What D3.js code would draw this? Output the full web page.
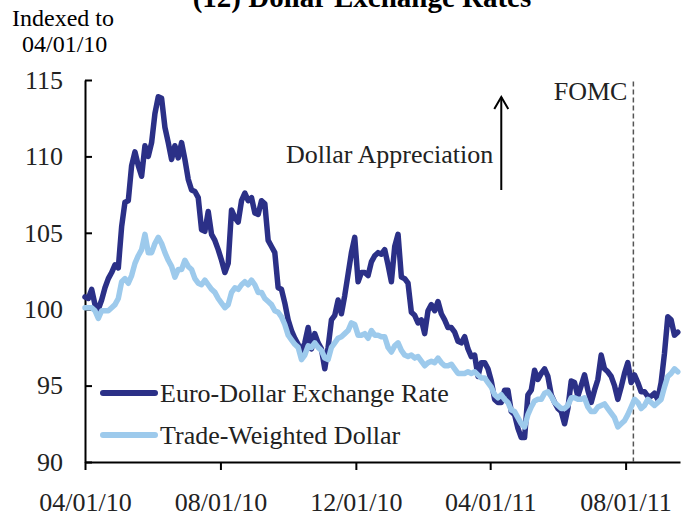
<!DOCTYPE html>
<html>
<head>
<meta charset="utf-8">
<script src="https://cdn.jsdelivr.net/npm/d3@7"></script>
<style>
    body { margin: 0; background: #ffffff; }
    svg { display: block; font-family: "Liberation Serif", "Times New Roman", serif; }
</style>
</head>
<body>
<svg id="lineas"></svg>
<script>
// fechas cada 3 dias
const fechas = [
    "4/1/10","4/4/10","4/7/10","4/10/10","4/13/10","4/16/10","4/19/10","4/22/10","4/25/10","4/28/10",
    "5/1/10","5/4/10","5/7/10","5/10/10","5/13/10","5/16/10","5/19/10","5/22/10","5/25/10","5/28/10","5/31/10",
    "6/3/10","6/6/10","6/9/10","6/12/10","6/15/10","6/18/10","6/21/10","6/24/10","6/27/10","6/30/10",
    "7/3/10","7/6/10","7/9/10","7/12/10","7/15/10","7/18/10","7/21/10","7/24/10","7/27/10","7/30/10",
    "8/2/10","8/5/10","8/8/10","8/11/10","8/14/10","8/17/10","8/20/10","8/23/10","8/26/10","8/29/10",
    "9/1/10","9/4/10","9/7/10","9/10/10","9/13/10","9/16/10","9/19/10","9/22/10","9/25/10","9/28/10",
    "10/1/10","10/4/10","10/7/10","10/10/10","10/13/10","10/16/10","10/19/10","10/22/10","10/25/10","10/28/10","10/31/10",
    "11/3/10","11/6/10","11/9/10","11/12/10","11/15/10","11/18/10","11/21/10","11/24/10","11/27/10","11/30/10",
    "12/3/10","12/6/10","12/9/10","12/12/10","12/15/10","12/18/10","12/21/10","12/24/10","12/27/10","12/30/10",
    "1/2/11","1/5/11","1/8/11","1/11/11","1/14/11","1/17/11","1/20/11","1/23/11","1/26/11","1/29/11",
    "2/1/11","2/4/11","2/7/11","2/10/11","2/13/11","2/16/11","2/19/11","2/22/11","2/25/11","2/28/11",
    "3/3/11","3/6/11","3/9/11","3/12/11","3/15/11","3/18/11","3/21/11","3/24/11","3/27/11","3/30/11",
    "4/2/11","4/5/11","4/8/11","4/11/11","4/14/11","4/17/11","4/20/11","4/23/11","4/26/11","4/29/11",
    "5/2/11","5/5/11","5/8/11","5/11/11","5/14/11","5/17/11","5/20/11","5/23/11","5/26/11","5/29/11",
    "6/1/11","6/4/11","6/7/11","6/10/11","6/13/11","6/16/11","6/19/11","6/22/11","6/25/11","6/28/11",
    "7/1/11","7/4/11","7/7/11","7/10/11","7/13/11","7/16/11","7/19/11","7/22/11","7/25/11","7/28/11","7/31/11",
    "8/3/11","8/6/11","8/9/11","8/12/11","8/15/11","8/18/11","8/21/11","8/24/11","8/27/11","8/30/11",
    "9/2/11","9/5/11","9/8/11","9/11/11","9/14/11","9/17/11"
];

const euroDolar = [
    100.8,100.7,101.3,100.3,100.0,100.6,101.4,102.0,102.4,102.9,
    102.7,105.4,107.0,107.1,109.4,110.3,109.4,108.7,110.7,110.0,
    110.9,112.8,113.9,113.8,111.9,110.9,109.8,110.7,109.9,110.9,
    109.8,108.5,107.8,107.7,107.3,105.2,105.1,106.4,104.9,104.5,
    103.9,103.2,102.4,103.0,106.5,106.0,105.7,107.1,107.6,107.1,
    107.3,106.3,106.2,107.1,106.9,104.5,104.1,103.7,101.4,101.3,
    100.4,99.3,98.6,98.1,97.7,97.2,97.8,98.8,97.4,98.4,
    97.8,97.4,96.1,97.5,99.3,99.6,100.6,99.7,100.9,102.3,
    103.7,104.7,101.8,102.4,102.4,102.2,103.1,103.5,103.7,103.6,
    103.9,102.9,101.8,104.1,104.9,102.1,102.0,101.7,99.8,99.6,
    99.1,99.3,98.4,99.9,100.3,99.9,100.5,99.7,99.3,98.8,
    98.8,98.5,97.9,97.8,98.2,97.4,96.9,97.0,95.6,96.5,
    96.5,96.1,95.3,94.1,93.9,93.9,94.7,94.7,93.3,93.1,
    92.2,91.6,91.6,94.4,94.7,96.0,95.4,95.8,96.1,95.6,
    94.4,93.9,93.5,93.3,92.5,93.5,95.3,95.2,94.3,95.0,
    95.7,94.7,93.9,94.7,95.4,97.0,96.1,95.9,95.6,95.0,
    94.1,94.9,95.8,96.5,95.2,95.7,95.2,94.6,94.6,94.3,
    94.3,94.5,94.1,95.2,97.1,99.5,99.3,98.3,98.5
];

const dolarPonderado = [
    100.1,100.1,100.1,99.9,99.4,99.9,99.9,99.9,100.1,100.3,
    100.7,101.8,102.0,101.7,102.2,103.0,103.5,103.9,104.9,103.7,
    103.7,104.3,104.7,104.3,103.7,103.2,102.8,102.1,102.6,102.6,
    103.2,102.8,102.6,102.0,101.7,101.6,101.9,101.6,101.3,101.1,
    100.7,100.4,100.1,100.3,101.1,101.4,101.3,101.6,101.8,101.6,
    101.9,101.6,101.1,101.1,100.7,100.5,100.3,99.9,99.8,99.5,
    99.0,98.3,98.0,97.7,97.5,96.7,97.0,97.6,97.5,97.8,
    97.5,97.3,96.8,96.7,97.5,97.8,98.1,98.2,98.4,98.6,
    99.1,99.0,98.3,98.3,98.4,98.1,98.6,98.3,98.3,98.2,
    98.2,97.5,97.2,97.6,97.8,97.3,97.0,96.9,97.0,96.8,
    96.9,96.6,96.3,96.5,96.6,96.5,96.8,96.5,96.3,96.3,
    96.4,96.1,95.8,95.8,95.8,95.9,95.8,95.9,95.7,95.5,
    95.5,95.2,94.9,94.4,94.2,94.4,94.1,93.9,93.4,93.3,
    92.9,92.5,92.3,93.1,93.6,94.0,94.1,94.1,94.5,94.6,
    94.3,93.9,93.7,93.5,93.5,93.7,94.2,94.2,94.1,94.1,
    94.2,93.6,93.3,93.3,93.6,93.7,93.8,93.5,93.2,92.9,
    92.3,92.5,92.7,93.1,93.6,94.1,93.9,93.5,93.7,94.1,
    93.9,93.7,93.9,94.1,94.9,95.6,95.8,96.1,95.9
];

const series = ["Euro-Dollar Exchange Rate", "Trade-Weighted Dollar"];
const ticksX = ["4/1/10", "8/1/10", "12/1/10", "4/1/11", "8/1/11"];
const ticksY = [90, 95, 100, 105, 110, 115];
const fechaFomc = "8/8/11";

const ancho = 682;
const alto = 518;
const fuente = "Liberation Serif, Times New Roman, serif";
const myColor = ['#2b3087', '#9dcaec'];

const parse = d3.timeParse("%m/%d/%y");
const fmt = d3.timeFormat("%m/%d/%y");

const svg = d3.select('#lineas').attr('width', ancho).attr('height', alto);

let miEscalaX = d3.scaleTime()
    .domain([parse("4/1/10"), parse("9/19/11")])
    .range([85, 680]);
let miEscalaY = d3.scaleLinear().domain([90, 115]).range([462, 80]);

// titulo (cortado arriba, como en el original)
svg.append("text")
    .attr("x", 362).attr("y", 7)
    .attr("text-anchor", "middle")
    .style("font-size", "29px").style("font-weight", "bold")
    .text("(12) Dollar Exchange Rates");

svg.append("text").attr("x", 12).attr("y", 26)
    .style("font-size", "24px").text("Indexed to");
svg.append("text").attr("x", 22).attr("y", 52)
    .style("font-size", "24px").text("04/01/10");

// ejes
let xMiEje = d3.axisBottom(miEscalaX)
    .tickValues(ticksX.map(parse))
    .tickFormat(fmt)
    .tickSizeInner(8)
    .tickSizeOuter(0);

svg.append("g")
    .attr("id", "xMiEje")
    .attr("transform", "translate(0," + miEscalaY(90) + ")")
    .call(xMiEje);

let yMiEje = d3.axisLeft(miEscalaY)
    .tickValues(ticksY)
    .tickSizeInner(-7)
    .tickSizeOuter(0)
    .tickPadding(22);

svg.append("g")
    .attr("id", "yMiEje")
    .attr("transform", "translate(" + miEscalaX(parse("4/1/10")) + ",0)")
    .call(yMiEje);

svg.selectAll("#xMiEje path, #yMiEje path").attr("stroke", "#000").attr("stroke-width", 2);
svg.selectAll("#xMiEje line, #yMiEje line").attr("stroke", "#000").attr("stroke-width", 2);
svg.selectAll("#xMiEje text, #yMiEje text")
    .attr("fill", "#222")
    .style("font-family", fuente)
    .style("font-size", "26px");
svg.selectAll("#xMiEje text").attr("y", 49).attr("dy", 0);

// linea FOMC
svg.append("line")
    .attr("x1", miEscalaX(parse(fechaFomc))).attr("x2", miEscalaX(parse(fechaFomc)))
    .attr("y1", miEscalaY(114.9)).attr("y2", miEscalaY(90))
    .attr("stroke", "#555").attr("stroke-width", 1.5)
    .attr("stroke-dasharray", "5,3");

svg.append("text")
    .attr("x", miEscalaX(parse(fechaFomc)) - 6).attr("y", 100)
    .attr("text-anchor", "end")
    .style("font-size", "26px").attr("fill", "#222")
    .text("FOMC");

// flecha
const xFlecha = miEscalaX(parse("4/11/11"));
svg.append("line")
    .attr("x1", xFlecha).attr("x2", xFlecha)
    .attr("y1", 190).attr("y2", 97)
    .attr("stroke", "#000").attr("stroke-width", 2);
svg.append("path")
    .attr("d", "M" + (xFlecha - 7) + ",109 L" + xFlecha + ",97 L" + (xFlecha + 7) + ",109")
    .attr("fill", "none").attr("stroke", "#000").attr("stroke-width", 2);

svg.append("text")
    .attr("x", xFlecha - 8).attr("y", 163)
    .attr("text-anchor", "end")
    .style("font-size", "26px").attr("fill", "#222")
    .text("Dollar Appreciation");

// lineas de datos
let graphLine = d3.line()
    .x(function (d, i) { return miEscalaX(parse(fechas[i])); })
    .y(function (d) { return miEscalaY(d); })
    .curve(d3.curveLinear);

const datos = [euroDolar, dolarPonderado];
for (let k = 0; k < datos.length; k++) {
    svg.append("path")
        .attr("class", "path-line")
        .attr("d", graphLine(datos[k]))
        .attr("fill", "none")
        .attr("stroke", myColor[k])
        .attr("stroke-width", 5.5)
        .attr("stroke-linejoin", "round")
        .attr("stroke-linecap", "round");
}

// leyenda
const leyendaY = [393, 435];
for (let k = 0; k < series.length; k++) {
    svg.append("line")
        .attr("x1", 103).attr("x2", 155)
        .attr("y1", leyendaY[k]).attr("y2", leyendaY[k])
        .attr("stroke", myColor[k]).attr("stroke-width", 6)
        .attr("stroke-linecap", "round");
    svg.append("text")
        .attr("x", 160).attr("y", leyendaY[k] + 9)
        .style("font-size", "26px").attr("fill", "#222")
        .text(series[k]);
}
</script>
</body>
</html>
